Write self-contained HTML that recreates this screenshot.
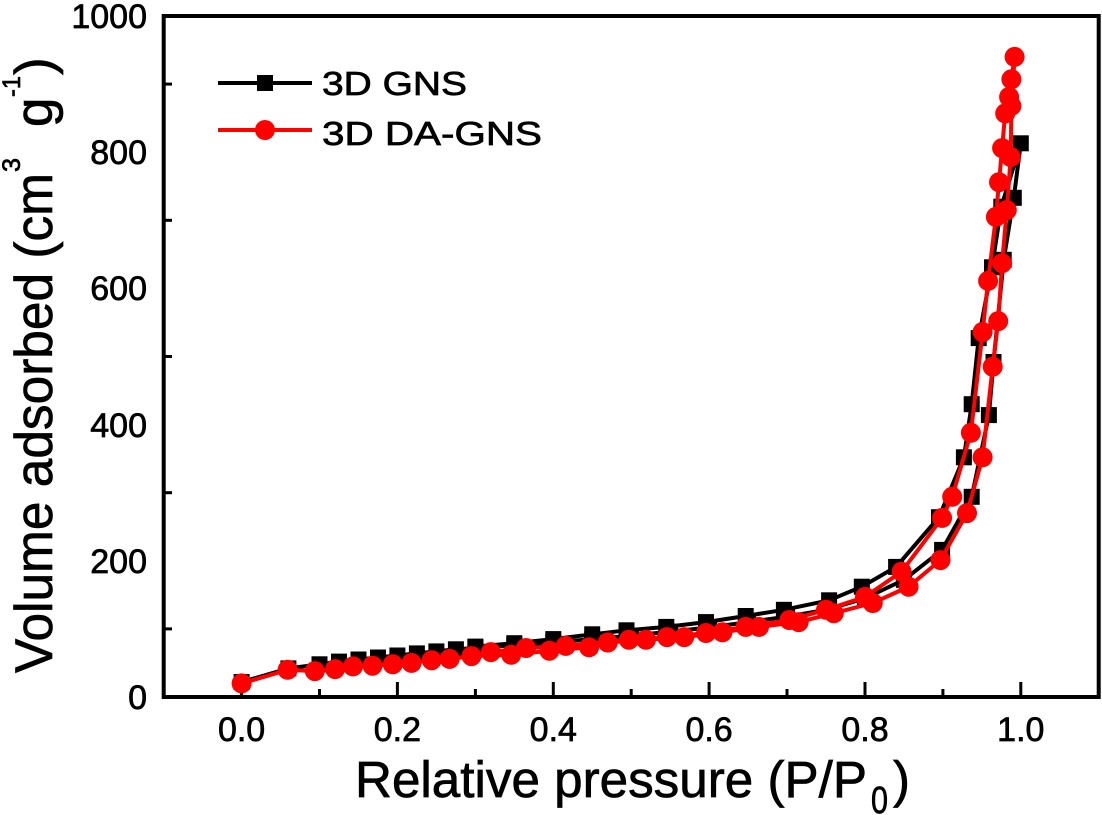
<!DOCTYPE html>
<html>
<head>
<meta charset="utf-8">
<style>
html,body{margin:0;padding:0;background:#fff;}
svg{display:block;}
text{font-family:"Liberation Sans",Arial,sans-serif;fill:#000;stroke:#000;stroke-width:0.7;}
</style>
</head>
<body>
<svg width="1102" height="815" viewBox="0 0 1102 815" xmlns="http://www.w3.org/2000/svg">
<rect x="0" y="0" width="1102" height="815" fill="#fff"/>
<rect x="163.7" y="16" width="935" height="681" fill="none" stroke="#000" stroke-width="4"/>
<g stroke="#000" stroke-width="3">
<line x1="241.6" y1="682" x2="241.6" y2="697"/>
<line x1="319.5" y1="689" x2="319.5" y2="697"/>
<line x1="397.4" y1="682" x2="397.4" y2="697"/>
<line x1="475.4" y1="689" x2="475.4" y2="697"/>
<line x1="553.3" y1="682" x2="553.3" y2="697"/>
<line x1="631.2" y1="689" x2="631.2" y2="697"/>
<line x1="709.1" y1="682" x2="709.1" y2="697"/>
<line x1="787.0" y1="689" x2="787.0" y2="697"/>
<line x1="865.0" y1="682" x2="865.0" y2="697"/>
<line x1="942.9" y1="689" x2="942.9" y2="697"/>
<line x1="1020.8" y1="682" x2="1020.8" y2="697"/>
<line x1="163.7" y1="628.9" x2="172" y2="628.9"/>
<line x1="163.7" y1="492.7" x2="172" y2="492.7"/>
<line x1="163.7" y1="356.5" x2="172" y2="356.5"/>
<line x1="163.7" y1="220.3" x2="172" y2="220.3"/>
<line x1="163.7" y1="84.1" x2="172" y2="84.1"/>
</g>
<g font-size="34" text-anchor="middle">
<text x="241.6" y="741">0.0</text>
<text x="397.4" y="741">0.2</text>
<text x="553.3" y="741">0.4</text>
<text x="709.1" y="741">0.6</text>
<text x="865.0" y="741">0.8</text>
<text x="1020.8" y="741">1.0</text>
</g>
<g font-size="34" text-anchor="end">
<text x="147" y="709">0</text>
<text x="147" y="573">200</text>
<text x="147" y="437">400</text>
<text x="147" y="300">600</text>
<text x="147" y="164">800</text>
<text x="147" y="28">1000</text>
</g>
<text x="355" y="797" font-size="51" textLength="512" lengthAdjust="spacingAndGlyphs">Relative pressure (P/P</text>
<text x="871" y="813" font-size="38" textLength="17" lengthAdjust="spacingAndGlyphs">0</text>
<text x="893" y="797" font-size="51">)</text>
<g transform="translate(52,673) rotate(-90)">
<text x="0" y="0" font-size="53" textLength="500" lengthAdjust="spacingAndGlyphs">Volume adsorbed (cm</text>
<text x="501" y="-32" font-size="25" textLength="14" lengthAdjust="spacingAndGlyphs">3</text>
<text x="546" y="0" font-size="53">g</text>
<text x="576" y="-32" font-size="25" textLength="21" lengthAdjust="spacingAndGlyphs">-1</text>
<text x="598" y="0" font-size="53">)</text>
</g>
<polyline fill="none" stroke="#000" stroke-width="4" stroke-linejoin="round" points="241.6,682.0 288.4,668.4 319.5,664.3 339.0,661.6 358.5,659.5 378.0,657.5 397.4,655.5 416.9,653.4 436.4,651.4 455.9,649.3 475.4,648.0 514.3,645.2 553.3,642.5 592.2,639.1 631.2,635.7 670.2,631.6 709.1,627.5 748.1,622.1 787.0,616.6 826.0,609.8 865.0,598.3 903.9,579.9 942.1,549.9 971.7,496.8 988.9,415.1 993.5,362.0 1003.7,259.8 1013.8,197.8 1020.8,143.3 1001.3,206.7 992.0,267.3 978.7,338.1 971.7,404.2 963.9,457.3 939.0,517.2 896.1,566.9 861.8,586.7 829.1,600.3 783.9,609.8 745.7,616.0 706.0,622.1 666.3,626.9 626.5,630.3 592.2,634.3 553.3,639.1 514.3,643.2 475.4,646.6"/>
<g fill="#000">
<rect x="233.6" y="674.0" width="16" height="16"/>
<rect x="280.4" y="660.4" width="16" height="16"/>
<rect x="311.5" y="656.3" width="16" height="16"/>
<rect x="331.0" y="653.6" width="16" height="16"/>
<rect x="350.5" y="651.5" width="16" height="16"/>
<rect x="370.0" y="649.5" width="16" height="16"/>
<rect x="389.4" y="647.5" width="16" height="16"/>
<rect x="408.9" y="645.4" width="16" height="16"/>
<rect x="428.4" y="643.4" width="16" height="16"/>
<rect x="447.9" y="641.3" width="16" height="16"/>
<rect x="467.4" y="640.0" width="16" height="16"/>
<rect x="506.3" y="637.2" width="16" height="16"/>
<rect x="545.3" y="634.5" width="16" height="16"/>
<rect x="584.2" y="631.1" width="16" height="16"/>
<rect x="623.2" y="627.7" width="16" height="16"/>
<rect x="662.2" y="623.6" width="16" height="16"/>
<rect x="701.1" y="619.5" width="16" height="16"/>
<rect x="740.1" y="614.1" width="16" height="16"/>
<rect x="779.0" y="608.6" width="16" height="16"/>
<rect x="818.0" y="601.8" width="16" height="16"/>
<rect x="857.0" y="590.3" width="16" height="16"/>
<rect x="895.9" y="571.9" width="16" height="16"/>
<rect x="934.1" y="541.9" width="16" height="16"/>
<rect x="963.7" y="488.8" width="16" height="16"/>
<rect x="980.9" y="407.1" width="16" height="16"/>
<rect x="985.5" y="354.0" width="16" height="16"/>
<rect x="995.7" y="251.8" width="16" height="16"/>
<rect x="1005.8" y="189.8" width="16" height="16"/>
<rect x="1012.8" y="135.3" width="16" height="16"/>
<rect x="993.3" y="198.7" width="16" height="16"/>
<rect x="984.0" y="259.3" width="16" height="16"/>
<rect x="970.7" y="330.1" width="16" height="16"/>
<rect x="963.7" y="396.2" width="16" height="16"/>
<rect x="955.9" y="449.3" width="16" height="16"/>
<rect x="931.0" y="509.2" width="16" height="16"/>
<rect x="888.1" y="558.9" width="16" height="16"/>
<rect x="853.8" y="578.7" width="16" height="16"/>
<rect x="821.1" y="592.3" width="16" height="16"/>
<rect x="775.9" y="601.8" width="16" height="16"/>
<rect x="737.7" y="608.0" width="16" height="16"/>
<rect x="698.0" y="614.1" width="16" height="16"/>
<rect x="658.3" y="618.9" width="16" height="16"/>
<rect x="618.5" y="622.3" width="16" height="16"/>
<rect x="584.2" y="626.3" width="16" height="16"/>
<rect x="545.3" y="631.1" width="16" height="16"/>
<rect x="506.3" y="635.2" width="16" height="16"/>
<rect x="467.4" y="638.6" width="16" height="16"/>
</g>
<polyline fill="none" stroke="#ff0000" stroke-width="4" stroke-linejoin="round" points="241.6,683.4 287.6,669.8 314.8,671.1 335.1,669.1 353.0,666.4 372.5,665.7 392.8,664.3 411.5,662.9 431.7,660.2 449.6,658.9 471.5,656.1 511.2,654.8 549.4,650.7 589.1,647.3 607.8,642.5 646.0,639.8 684.2,637.1 722.4,632.3 759.0,626.9 798.7,622.1 833.8,613.2 872.8,603.0 908.6,586.7 940.5,560.1 967.0,513.1 982.6,457.3 992.7,366.7 998.2,321.1 1002.1,263.2 1006.8,210.1 1010.7,157.0 1011.4,105.9 1014.6,56.9 1011.4,79.3 1009.1,97.0 1005.2,113.4 1002.1,148.1 999.0,182.2 995.9,216.9 988.1,280.9 982.6,332.0 970.9,432.8 952.2,496.8 942.1,517.9 901.6,571.7 865.0,596.9 826.0,609.8 789.4,620.0 745.7,626.9 706.0,633.0 667.0,637.1 628.9,639.8 565.7,645.9 526.0,648.0 490.9,652.1"/>
<g fill="#ff0000">
<circle cx="241.6" cy="683.4" r="10"/>
<circle cx="287.6" cy="669.8" r="10"/>
<circle cx="314.8" cy="671.1" r="10"/>
<circle cx="335.1" cy="669.1" r="10"/>
<circle cx="353.0" cy="666.4" r="10"/>
<circle cx="372.5" cy="665.7" r="10"/>
<circle cx="392.8" cy="664.3" r="10"/>
<circle cx="411.5" cy="662.9" r="10"/>
<circle cx="431.7" cy="660.2" r="10"/>
<circle cx="449.6" cy="658.9" r="10"/>
<circle cx="471.5" cy="656.1" r="10"/>
<circle cx="511.2" cy="654.8" r="10"/>
<circle cx="549.4" cy="650.7" r="10"/>
<circle cx="589.1" cy="647.3" r="10"/>
<circle cx="607.8" cy="642.5" r="10"/>
<circle cx="646.0" cy="639.8" r="10"/>
<circle cx="684.2" cy="637.1" r="10"/>
<circle cx="722.4" cy="632.3" r="10"/>
<circle cx="759.0" cy="626.9" r="10"/>
<circle cx="798.7" cy="622.1" r="10"/>
<circle cx="833.8" cy="613.2" r="10"/>
<circle cx="872.8" cy="603.0" r="10"/>
<circle cx="908.6" cy="586.7" r="10"/>
<circle cx="940.5" cy="560.1" r="10"/>
<circle cx="967.0" cy="513.1" r="10"/>
<circle cx="982.6" cy="457.3" r="10"/>
<circle cx="992.7" cy="366.7" r="10"/>
<circle cx="998.2" cy="321.1" r="10"/>
<circle cx="1002.1" cy="263.2" r="10"/>
<circle cx="1006.8" cy="210.1" r="10"/>
<circle cx="1010.7" cy="157.0" r="10"/>
<circle cx="1011.4" cy="105.9" r="10"/>
<circle cx="1014.6" cy="56.9" r="10"/>
<circle cx="1011.4" cy="79.3" r="10"/>
<circle cx="1009.1" cy="97.0" r="10"/>
<circle cx="1005.2" cy="113.4" r="10"/>
<circle cx="1002.1" cy="148.1" r="10"/>
<circle cx="999.0" cy="182.2" r="10"/>
<circle cx="995.9" cy="216.9" r="10"/>
<circle cx="988.1" cy="280.9" r="10"/>
<circle cx="982.6" cy="332.0" r="10"/>
<circle cx="970.9" cy="432.8" r="10"/>
<circle cx="952.2" cy="496.8" r="10"/>
<circle cx="942.1" cy="517.9" r="10"/>
<circle cx="901.6" cy="571.7" r="10"/>
<circle cx="865.0" cy="596.9" r="10"/>
<circle cx="826.0" cy="609.8" r="10"/>
<circle cx="789.4" cy="620.0" r="10"/>
<circle cx="745.7" cy="626.9" r="10"/>
<circle cx="706.0" cy="633.0" r="10"/>
<circle cx="667.0" cy="637.1" r="10"/>
<circle cx="628.9" cy="639.8" r="10"/>
<circle cx="565.7" cy="645.9" r="10"/>
<circle cx="526.0" cy="648.0" r="10"/>
<circle cx="490.9" cy="652.1" r="10"/>
</g>
<line x1="218" y1="83" x2="312" y2="83" stroke="#000" stroke-width="4"/>
<rect x="257" y="75" width="16" height="16" fill="#000"/>
<text x="322" y="95" font-size="33" textLength="145" lengthAdjust="spacingAndGlyphs">3D GNS</text>
<line x1="218" y1="130" x2="312" y2="130" stroke="#ff0000" stroke-width="4"/>
<circle cx="265" cy="130" r="10" fill="#ff0000"/>
<text x="322" y="145" font-size="33" textLength="220" lengthAdjust="spacingAndGlyphs">3D DA-GNS</text>
</svg>
</body>
</html>
